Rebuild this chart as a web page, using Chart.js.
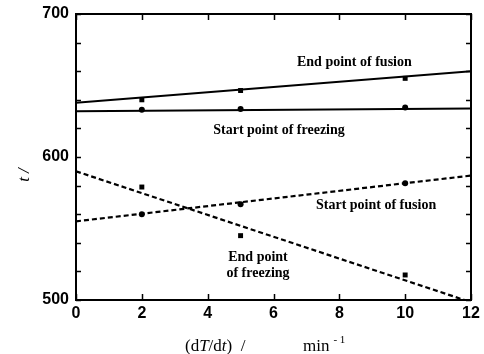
<!DOCTYPE html>
<html>
<head>
<meta charset="utf-8">
<script src="https://cdn.jsdelivr.net/npm/chart.js@4.4.1/dist/chart.umd.min.js"></script>
<style>
  html, body { margin: 0; padding: 0; background: #fff; }
  #wrap { width: 484px; height: 354px; }
</style>
</head>
<body>
<div id="wrap"><canvas id="c"></canvas></div>
<script>
  // measured rates (dT/dt, K/min) and temperatures (deg C)
  const rates = [2, 5, 10];
  const endFusion = [640, 646.5, 655];
  const startFreezing = [633, 633.5, 634.7];
  const startFusion = [560, 567, 581.6];
  const endFreezing = [579, 545, 517.5];

  // straight fits drawn across the plot
  const fitX = [0, 12];
  const endFusionFit = [638, 660];
  const startFreezingFit = [632, 634];
  const startFusionFit = [555, 587];
  const freezingFitX = [0, 11.8];
  const endFreezingFit = [590, 500];

  const xTicks = [0, 2, 4, 6, 8, 10, 12];
  const yLabels = [500, 600, 700];

  const pts = (xs, ys) => xs.map((x, i) => ({ x, y: ys[i] }));

  const serif = "'Liberation Serif', 'Times New Roman', serif";
  const sans = "'Liberation Sans', Arial, sans-serif";

  // inward ticks on all four sides, plus the frame
  const frameTicks = {
    id: "frameTicks",
    afterDraw(chart) {
      const { ctx, chartArea: a, scales: { x, y } } = chart;
      ctx.save();
      ctx.strokeStyle = "#000";
      ctx.lineWidth = 1.5;
      ctx.beginPath();
      for (const t of x.ticks) {
        const px = Math.round(x.getPixelForValue(t.value)) + 0.5;
        ctx.moveTo(px, a.bottom); ctx.lineTo(px, a.bottom - 6);
        ctx.moveTo(px, a.top); ctx.lineTo(px, a.top + 6);
      }
      for (const t of y.ticks) {
        const py = Math.round(y.getPixelForValue(t.value)) + 0.5;
        ctx.moveTo(a.left, py); ctx.lineTo(a.left + 5, py);
        ctx.moveTo(a.right, py); ctx.lineTo(a.right - 5, py);
      }
      ctx.stroke();
      ctx.lineWidth = 2;
      ctx.strokeRect(a.left, a.top, a.right - a.left, a.bottom - a.top);
      ctx.restore();
    },
  };

  // curve names and axis titles
  const annotations = {
    id: "annotations",
    afterDraw(chart) {
      const { ctx } = chart;
      ctx.save();
      ctx.fillStyle = "#000";
      ctx.textBaseline = "middle";
      ctx.font = `bold 14px ${serif}`;
      ctx.textAlign = "left";
      ctx.fillText("End point of fusion", 297, 62);
      ctx.fillText("Start point of fusion", 316, 205);
      ctx.textAlign = "center";
      ctx.fillText("Start point of freezing", 279, 130);
      ctx.fillText("End point", 258, 257);
      ctx.fillText("of freezing", 258, 273);

      // x title: (dT/dt) /   min^-1
      ctx.textAlign = "left";
      ctx.textBaseline = "alphabetic";
      const base = 351;
      let cx = 185;
      const part = (txt, font, dy = 0) => {
        ctx.font = font;
        ctx.fillText(txt, cx, base + dy);
        cx += ctx.measureText(txt).width;
      };
      const up = `17px ${serif}`;
      const it = `italic 17px ${serif}`;
      part("(d", up); part("T", it); part("/d", up); part("t", it); part(")  /", up);
      cx = 303;
      part("min", up);
      cx += 4;
      part("- 1", `11px ${serif}`, -8);

      // y title
      ctx.translate(24, 175);
      ctx.rotate(-Math.PI / 2);
      ctx.textAlign = "center";
      ctx.font = it;
      ctx.fillText("t /", 0, 5);
      ctx.restore();
    },
  };

  const fitLine = (data, dashed) => ({
    type: "line",
    data,
    borderColor: "#000",
    borderWidth: dashed ? 2.2 : 2,
    borderDash: dashed ? [5, 3] : [],
    pointRadius: 0,
    fill: false,
    tension: 0,
  });
  const marks = (data, style) => ({
    type: "scatter",
    data,
    pointStyle: style,
    pointRadius: style === "rect" ? 3.5 : 3,
    backgroundColor: "#000",
    borderColor: "#000",
    borderWidth: 0,
  });

  new Chart(document.getElementById("c"), {
    data: {
      datasets: [
        fitLine(pts(fitX, endFusionFit), false),
        fitLine(pts(fitX, startFreezingFit), false),
        fitLine(pts(fitX, startFusionFit), true),
        fitLine(pts(freezingFitX, endFreezingFit), true),
        marks(pts(rates, endFusion), "rect"),
        marks(pts(rates, startFreezing), "circle"),
        marks(pts(rates, startFusion), "circle"),
        marks(pts(rates, endFreezing), "rect"),
      ],
    },
    options: {
      responsive: true,
      maintainAspectRatio: false,
      animation: false,
      events: [],
      layout: { padding: { top: 14, right: 13, left: 0, bottom: 0 } },
      plugins: { legend: { display: false }, tooltip: { enabled: false } },
      scales: {
        x: {
          type: "linear",
          min: 0,
          max: 12,
          afterBuildTicks: (s) => { s.ticks = xTicks.map((v) => ({ value: v })); },
          afterFit: (s) => { s.height = 54; },
          grid: { display: false },
          border: { display: false },
          ticks: { color: "#000", font: { family: sans, size: 16, weight: "bold" }, padding: -4, maxRotation: 0 },
        },
        y: {
          type: "linear",
          min: 500,
          max: 700,
          ticks: {
            stepSize: 20,
            color: "#000",
            padding: -1,
            font: { family: sans, size: 16, weight: "bold" },
            callback: (v) => (yLabels.includes(v) ? String(v) : ""),
          },
          afterFit: (s) => { s.width = 76; },
          grid: { display: false },
          border: { display: false },
        },
      },
    },
    plugins: [frameTicks, annotations],
  });
</script>
</body>
</html>
